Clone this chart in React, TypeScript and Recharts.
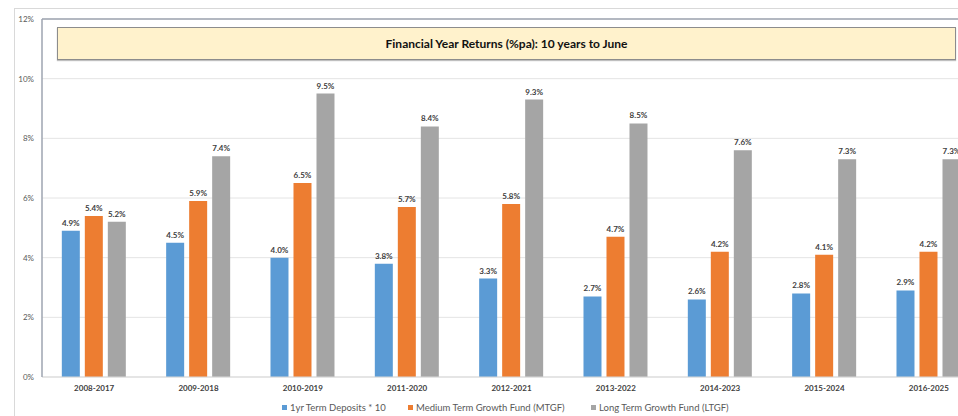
import React from "react";
import { Bar, BarChart, CartesianGrid, LabelList, ReferenceLine, XAxis, YAxis } from "recharts";

const periods = [
  "2008-2017",
  "2009-2018",
  "2010-2019",
  "2011-2020",
  "2012-2021",
  "2013-2022",
  "2014-2023",
  "2015-2024",
  "2016-2025",
];
const termDeposits = [4.9, 4.5, 4.0, 3.8, 3.3, 2.7, 2.6, 2.8, 2.9];
const mediumFund = [5.4, 5.9, 6.5, 5.7, 5.8, 4.7, 4.2, 4.1, 4.2];
const longFund = [5.2, 7.4, 9.5, 8.4, 9.3, 8.5, 7.6, 7.3, 7.3];
const yTicks = [0, 2, 4, 6, 8, 10, 12];

const series = [
  { key: "td", name: "1yr Term Deposits * 10", color: "#5B9BD5", legendX: 282 },
  { key: "mtgf", name: "Medium Term Growth Fund (MTGF)", color: "#ED7D31", legendX: 408 },
  { key: "ltgf", name: "Long Term Growth Fund (LTGF)", color: "#A5A5A5", legendX: 591 },
];

const data = periods.map((period, i) => ({
  period,
  td: termDeposits[i],
  mtgf: mediumFund[i],
  ltgf: longFund[i],
}));

const font = "Lato, 'Open Sans', sans-serif";
const pct = (v: number) => `${Number(v).toFixed(1)}%`;

export default function App() {
  return (
    <div
      style={{
        position: "absolute",
        left: 0,
        top: 0,
        width: 958,
        height: 416,
        overflow: "hidden",
        background: "#fff",
        fontFamily: font,
      }}
    >
      {/* outer chart frame */}
      <div
        style={{
          position: "absolute",
          left: 14,
          top: 8,
          width: 960,
          height: 420,
          borderTop: "1px solid #d9d9d9",
          borderLeft: "1px solid #d9d9d9",
        }}
      />
      <div style={{ position: "absolute", left: 0, top: 0 }}>
        <BarChart
          width={990}
          height={416}
          data={data}
          margin={{ top: 19, right: 9, left: 0, bottom: 19 }}
          barCategoryGap="19%"
          barGap={5}
        >
          <CartesianGrid vertical={false} stroke="#e4e4e4" />
          <XAxis
            dataKey="period"
            height={20}
            tickLine={false}
            axisLine={{ stroke: "#d9d9d9" }}
            tick={{ fontSize: 8, fontWeight: 700, fill: "#404040", fontFamily: font }}
            interval={0}
          />
          <YAxis
            width={42}
            domain={[0, 12]}
            ticks={yTicks}
            tickFormatter={(v: number) => `${v}%`}
            tickLine={false}
            axisLine={{ stroke: "#9ea5b0", strokeWidth: 1.5 }}
            tick={{ fontSize: 8, fill: "#595959", fontFamily: font }}
          />
          <ReferenceLine y={12} stroke="#9ea5b0" strokeWidth={1.5} />
          {series.map((s) => (
            <Bar key={s.key} dataKey={s.key} name={s.name} fill={s.color} isAnimationActive={false}>
              <LabelList
                dataKey={s.key}
                position="top"
                offset={5}
                formatter={pct}
                style={{ fontSize: 8, fontWeight: 700, fill: "#404040", fontFamily: font }}
              />
            </Bar>
          ))}
        </BarChart>
      </div>

      {/* title box */}
      <div
        style={{
          position: "absolute",
          left: 57,
          top: 27,
          width: 897,
          height: 31,
          background: "#FFF2CC",
          border: "1px solid #8c8c8c",
          boxShadow: "0 1px 1px rgba(0,0,0,0.25)",
          display: "flex",
          alignItems: "center",
          justifyContent: "center",
          fontSize: 12,
          fontWeight: 700,
          color: "#111",
        }}
      >
        Financial Year Returns (%pa): 10 years to June
      </div>

      {/* legend */}
      {series.map((s) => (
        <div
          key={s.key}
          style={{
            position: "absolute",
            left: s.legendX,
            top: 400,
            height: 14,
            display: "flex",
            alignItems: "center",
            fontSize: 9.5,
            color: "#595959",
            whiteSpace: "nowrap",
          }}
        >
          <span style={{ width: 5, height: 5, background: s.color, marginRight: 3, display: "inline-block" }} />
          {s.name}
        </div>
      ))}
    </div>
  );
}
